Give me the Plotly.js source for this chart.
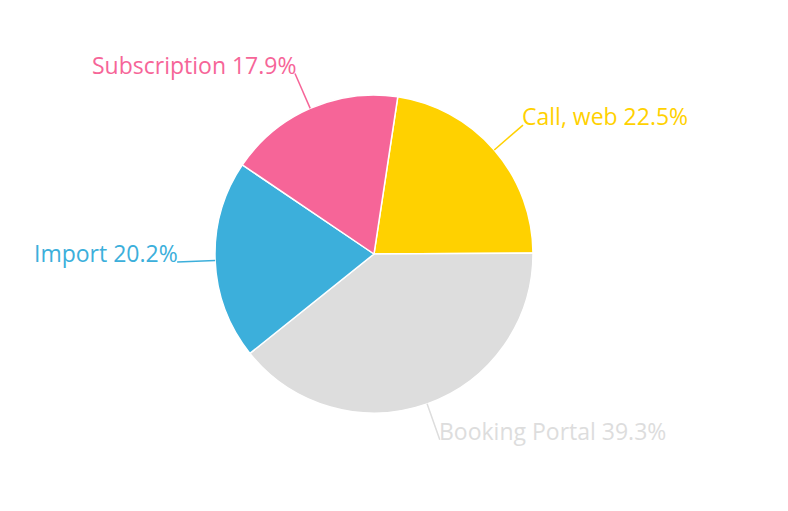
<!DOCTYPE html>
<html>
<head>
<meta charset="utf-8">
<script src="https://cdn.plot.ly/plotly-3.0.1.min.js"></script>
<style>
  html, body { margin: 0; padding: 0; background: #fff; }
  #chart { width: 788px; height: 511px; }
</style>
</head>
<body>
<div id="chart"></div>
<script>
// data
const labels = ['Call, web', 'Booking Portal', 'Import', 'Subscription'];
const values = [22.5, 39.3, 20.2, 17.9];
const colors = ['#ffd100', '#dddddd', '#3cafdb', '#f66598'];

// layout (pixels)
const W = 788, H = 511;
const cx = 374, cy = 254, R = 159;
const startAngle = 8.6;   // first slice starts a little right of 12 o'clock
const lineLen = 38;       // leader line length
const fontSize = 23;

const total = values.reduce((a, b) => a + b, 0);

// paper coords from pixels
const px = x => x / W;
const py = y => 1 - y / H;

const shapes = [];
const annotations = [];
let angle = startAngle;
values.forEach(function (v, i) {
  const span = 360 * v / total;
  const mid = (angle + span / 2) * Math.PI / 180;
  angle += span;
  const s = Math.sin(mid), c = Math.cos(mid);
  const x0 = cx + R * s, y0 = cy - R * c;
  const x1 = cx + (R + lineLen) * s, y1 = cy - (R + lineLen) * c;
  shapes.push({
    type: 'line', xref: 'paper', yref: 'paper',
    x0: px(x0), y0: py(y0), x1: px(x1), y1: py(y1),
    line: {color: colors[i], width: 1.5}
  });
  const pct = (100 * v / total).toFixed(1);
  annotations.push({
    xref: 'paper', yref: 'paper',
    x: px(x1), y: py(y1),
    text: labels[i] + ' ' + pct + '%',
    showarrow: false,
    xanchor: s > 0 ? 'left' : 'right',
    yanchor: 'bottom',
    yshift: -9,
    xshift: s > 0 ? -3 : 3,
    font: {color: colors[i], size: fontSize, family: 'Open Sans, sans-serif'}
  });
});

const trace = {
  type: 'pie',
  labels: labels,
  values: values,
  sort: false,
  direction: 'clockwise',
  rotation: startAngle,
  textinfo: 'none',
  hoverinfo: 'label+percent',
  marker: {colors: colors, line: {color: '#ffffff', width: 1.5}},
  domain: {x: [px(cx - R), px(cx + R)], y: [py(cy + R), py(cy - R)]}
};

Plotly.newPlot('chart', [trace], {
  width: W,
  height: H,
  margin: {l: 0, r: 0, t: 0, b: 0},
  showlegend: false,
  paper_bgcolor: '#ffffff',
  shapes: shapes,
  annotations: annotations
}, {displayModeBar: false, staticPlot: true});
</script>
</body>
</html>
